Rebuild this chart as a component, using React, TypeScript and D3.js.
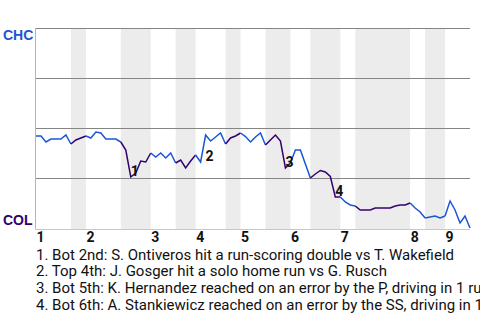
import React from "react";
import * as d3 from "d3";

// CHC win probability after each play (0 = COL wins, 1 = CHC wins)
const winProb = [
  0.46, 0.46, 0.43, 0.445, 0.445, 0.445, 0.465, 0.42, 0.44, 0.45,
  0.46, 0.45, 0.48, 0.475, 0.445, 0.445, 0.445, 0.43, 0.39, 0.255,
  0.275, 0.335, 0.33, 0.375, 0.355, 0.375, 0.35, 0.375, 0.325, 0.34,
  0.3, 0.335, 0.365, 0.33, 0.465, 0.435, 0.455, 0.475, 0.42, 0.45,
  0.46, 0.475, 0.457, 0.43, 0.455, 0.475, 0.415, 0.44, 0.465, 0.435,
  0.3, 0.325, 0.39, 0.39, 0.32, 0.25, 0.27, 0.2875, 0.28, 0.2575,
  0.155, 0.155, 0.13, 0.115, 0.11, 0.09, 0.09, 0.09, 0.1, 0.1,
  0.1, 0.1, 0.11, 0.115, 0.115, 0.125, 0.1, 0.08, 0.05, 0.055,
  0.06, 0.05, 0.06, 0.135, 0.09, 0.025, 0.06, 0,
];

// play index where each half inning starts (top 1st, bot 1st, top 2nd, ...)
const halfStarts = [0, 7, 10, 17, 23, 28, 32, 38, 41, 46, 51, 55, 61, 64, 75, 78, 82];
// line colour (team index) for each half inning
const halfTeam = [0, 1, 0, 1, 0, 1, 0, 1, 0, 1, 0, 1, 0, 1, 0, 0, 0];
const innings = ["1", "2", "3", "4", "5", "6", "7", "8", "9"];

const keyPlayIdx = [19, 34, 50, 60];
const keyPlayText = [
  "1. Bot 2nd: S. Ontiveros hit a run-scoring double vs T. Wakefield",
  "2. Top 4th: J. Gosger hit a solo home run vs G. Rusch",
  "3. Bot 5th: K. Hernandez reached on an error by the P, driving in 1 run",
  "4. Bot 6th: A. Stankiewicz reached on an error by the SS, driving in 1 run",
];

const teams = ["CHC", "COL"];
const gridVals = [0.25, 0.5, 0.75, 1];

const BLUE = "#1a56d8";
const PURPLE = "#33006f";
const teamColors = [BLUE, PURPLE];

export default function App() {
  const W = 480;
  const H = 320;
  const n = winProb.length - 1;
  const x = d3.scaleLinear().domain([0, n]).range([36, 470]);
  const y = d3.scaleLinear().domain([0, 1]).range([228, 28]);

  const bounds = [...halfStarts, n];
  const segments = halfStarts.map((s, k) => {
    const e = bounds[k + 1];
    const pts = winProb.slice(s, e + 1);
    const pathFn = d3
      .line<number>()
      .x((_, i) => x(s + i))
      .y((d) => y(d));
    return { d: pathFn(pts) || "", color: teamColors[halfTeam[k]], s, e };
  });

  return (
    <div style={{ position: "fixed", left: 0, top: 0, width: W, height: H, background: "#fff" }}>
      <svg width={W} height={H} style={{ display: "block", overflow: "hidden" }}>
        {/* bottom-half shading */}
        {segments
          .filter((_, k) => k % 2 === 1)
          .map((sg, k) => (
            <rect
              key={"sh" + k}
              x={x(sg.s)}
              y={28}
              width={x(sg.e) - x(sg.s)}
              height={201}
              fill="#ececec"
            />
          ))}
        {/* grid lines */}
        {gridVals.map((v) => (
          <line
            key={"g" + v}
            x1={36}
            x2={470}
            y1={Math.round(y(v)) + 0.5}
            y2={Math.round(y(v)) + 0.5}
            stroke="#858585"
            strokeWidth={1.2}
          />
        ))}
        {/* axes */}
        <line x1={35.5} x2={35.5} y1={28} y2={230} stroke="#b5b5b5" strokeWidth={1} />
        <line x1={35} x2={470} y1={229.5} y2={229.5} stroke="#c8c8c8" strokeWidth={1} />
        {/* team labels */}
        <text x={3} y={40} fill={BLUE} fontFamily="Liberation Sans, Arial, sans-serif" fontWeight="bold" fontSize={14}>
          {teams[0]}
        </text>
        <text x={3} y={225} fill={PURPLE} fontFamily="Liberation Sans, Arial, sans-serif" fontWeight="bold" fontSize={14}>
          {teams[1]}
        </text>
        {/* win probability line */}
        {segments.map((sg, k) => (
          <path key={"p" + k} d={sg.d} fill="none" stroke={sg.color} strokeWidth={1.5} strokeLinejoin="miter" />
        ))}
        {/* key play markers */}
        {keyPlayIdx.map((idx, k) => (
          <text
            key={"k" + k}
            x={x(idx)}
            y={Math.max(y(winProb[idx - 1]), y(winProb[idx])) - 1}
            fontFamily="Roboto, sans-serif"
            fontWeight="bold"
            fontSize={14}
            fill="#111"
          >
            {k + 1}
          </text>
        ))}
        {/* inning labels */}
        {innings.map((lab, k) => (
          <text
            key={"i" + k}
            x={x(halfStarts[k * 2]) + 0.5}
            y={242}
            fontFamily="Roboto, sans-serif"
            fontWeight="bold"
            fontSize={14}
            fill="#111"
          >
            {lab}
          </text>
        ))}
        {/* key play descriptions */}
        {keyPlayText.map((t, k) => (
          <text
            key={"t" + k}
            x={36}
            y={259.5 + k * 16.7}
            fontFamily="Roboto, sans-serif"
            fontSize={15}
            fill="#111"
          >
            {t}
          </text>
        ))}
      </svg>
    </div>
  );
}
